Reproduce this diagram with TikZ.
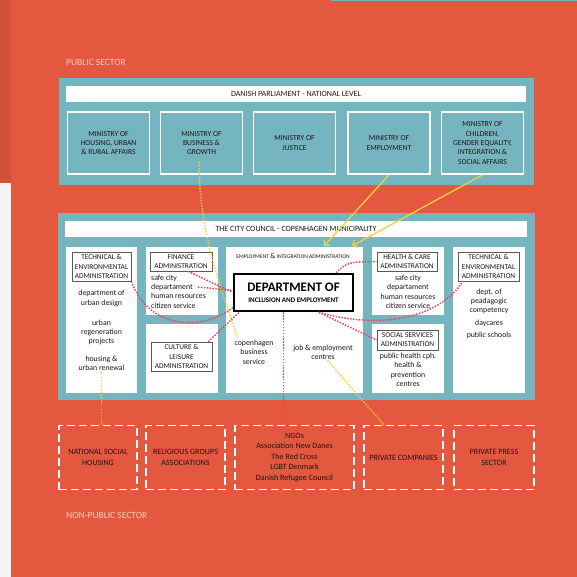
\documentclass[tikz,border=0pt]{standalone}
\usepackage{fontspec}
\setmainfont{Carlito}
\usetikzlibrary{arrows.meta}

\definecolor{slide}{RGB}{228,88,63}
\definecolor{panel}{RGB}{116,181,192}
\definecolor{ink}{RGB}{30,22,22}
\definecolor{sectorpink}{RGB}{248,205,190}
\definecolor{linkred}{RGB}{236,64,74}
\definecolor{feedyellow}{RGB}{244,208,60}

\begin{document}
\begin{tikzpicture}[x=1pt, y=-1pt,
        sector/.style={anchor=west, inner sep=0pt, text=sectorpink, font=\fontsize{9.5}{11}\selectfont},
        banner/.style={fill=white, text=ink, inner sep=0pt, font=\fontsize{8}{9}\selectfont},
        ministry/.style={draw=white, line width=1.8pt, fill=panel, text=ink, align=center,
            minimum width=82pt, minimum height=62pt, inner sep=1pt, font=\fontsize{7.6}{9.3}\selectfont},
        unitbox/.style={draw=black!65, line width=0.7pt, fill=white, text=ink, align=center,
            inner sep=0.5pt, font=\fontsize{7.4}{9.2}\selectfont},
        body/.style={text=ink, align=center, inner sep=0pt, font=\fontsize{7.8}{9.4}\selectfont},
        outside/.style={draw=white, line width=1.7pt, dash pattern=on 8pt off 4pt, text=ink, align=center,
            minimum height=64pt, inner sep=1pt, font=\fontsize{8.1}{10.5}\selectfont},
        link/.style={linkred, line width=1.5pt, dash pattern=on 1.4pt off 1.5pt},
        feed/.style={feedyellow, line width=1.5pt, dash pattern=on 1.4pt off 1.5pt},
        report/.style={feedyellow, line width=1.3pt, -{Straight Barb[length=4pt,width=8pt]}}
    ]
    \useasboundingbox (0,0) rectangle (577,577);

    % Slide background
    \fill[slide] (0,0) rectangle (577,577);
    \fill[slide!92!black] (0,0) rectangle (10.5,183);
    \fill[black!4] (0,183) rectangle (10.5,577);
    \fill[panel] (331,0) rectangle (577,1.3);

    \node[sector] (public) at (66,62) {PUBLIC SECTOR};

    % National level
    \fill[panel] (59,78) rectangle (534,185);
    \node[banner, minimum width=460pt, minimum height=16pt] (parliament) at (296,94) {DANISH PARLIAMENT - NATIONAL LEVEL};
    \foreach \n/\x/\t in {m1/108.5/{MINISTRY OF\\HOUSING, URBAN\\\& RURAL AFFAIRS},
                          m2/201.5/{MINISTRY OF\\BUSINESS \&\\GROWTH},
                          m3/294.5/{MINISTRY OF\\JUSTICE},
                          m4/389/{MINISTRY OF\\EMPLOYMENT},
                          m5/482.5/{MINISTRY OF\\CHILDREN,\\GENDER EQUALITY,\\INTEGRATION \&\\SOCIAL AFFAIRS}} {
        \node[ministry] (\n) at (\x,143) {\t};
    }

    % Municipal level
    \fill[panel] (58,213) rectangle (535,400);
    \node[banner, minimum width=462pt, minimum height=16pt] (council) at (296,229) {THE CITY COUNCIL - COPENHAGEN MUNICIPALITY};
    \fill[white] (66,247) rectangle (137,393);
    \fill[white] (146,247) rectangle (218,315);
    \fill[white] (146,324) rectangle (218,393);
    \fill[white] (226,247) rectangle (363,393);
    \fill[white] (372,247) rectangle (444,315);
    \fill[white] (372,324) rectangle (444,393);
    \fill[white] (453,247) rectangle (525,393);

    % Administrations
    \node[unitbox, minimum width=59pt, minimum height=29pt] (tecL) at (101.5,266.5) {TECHNICAL \&\\ENVIRONMENTAL\\ADMINISTRATION};
    \node[unitbox, minimum width=62pt, minimum height=19pt] (fin) at (181,261.5) {FINANCE\\ADMINISTRATION};
    \node[unitbox, minimum width=61pt, minimum height=29pt] (cult) at (181.5,356.5) {CULTURE \&\\LEISURE\\ADMINISTRATION};
    \node[unitbox, minimum width=60pt, minimum height=19pt] (hlt) at (407,261.5) {HEALTH \& CARE\\ADMINISTRATION};
    \node[unitbox, minimum width=61pt, minimum height=20pt] (soc) at (407.5,340) {SOCIAL SERVICES\\ADMINISTRATION};
    \node[unitbox, minimum width=61pt, minimum height=29pt] (tecR) at (488.5,266.5) {TECHNICAL \&\\ENVIRONMENTAL\\ADMINISTRATION};

    \node[text=ink, inner sep=0pt, font=\fontsize{5.6}{6}\selectfont] (empadm) at (293,256)
        {EMPLOYMENT {\fontsize{7.4}{8}\selectfont\&} INTEGRATION ADMINISTRATION};
    \node[draw=black, line width=2.6pt, fill=white, text=black, align=center, inner sep=0pt,
          minimum width=119pt, minimum height=37pt] (dept) at (293.5,292.5)
        {{\fontsize{13}{13}\selectfont\bfseries DEPARTMENT OF}\\[-1pt]{\fontsize{7}{8}\selectfont\bfseries INCLUSION AND EMPLOYMENT}};

    % Units and services
    \node[body] (design) at (101.5,298.5) {department of\\urban design};
    \node[body] (regen) at (101.5,332.5) {urban\\regeneration\\projects};
    \node[body] (housing) at (101.5,363.5) {housing \&\\urban renewal};
    \node[body, anchor=west, align=left] (finbody) at (151,291.5) {safe city\\departament\\human resources\\citizen service};
    \node[body] (copen) at (254,352) {copenhagen\\business\\service};
    \node[body] (jobs) at (323,352.5) {job \& employment\\centres};
    \node[body] (hltbody) at (408,292) {safe city\\departament\\human resources\\citizen service};
    \node[body] (socbody) at (408,370) {public health cph.\\health \&\\prevention\\centres};
    \node[body] (pedag) at (489,301.5) {dept. of\\peadagogic\\competency};
    \node[body] (daycare) at (489,323) {daycares};
    \node[body] (schools) at (489,335) {public schools};

    % Non-public actors
    \node[outside, minimum width=78pt] (nsh) at (98,457.5) {NATIONAL SOCIAL\\HOUSING};
    \node[outside, minimum width=79pt] (rel) at (185.5,457.5) {RELIGIOUS GROUPS\\ASSOCIATIONS};
    \node[outside, minimum width=119pt] (ngo) at (294.5,457.5) {NGOs\\Association New Danes\\The Red Cross\\LGBT Denmark\\Danish Refugee Council};
    \node[outside, minimum width=79pt] (prv) at (403.5,457.5) {PRIVATE COMPANIES};
    \node[outside, minimum width=80pt] (press) at (494,457.5) {PRIVATE PRESS\\SECTOR};

    \node[sector] (nonpublic) at (66,515) {NON-PUBLIC SECTOR};

    % Ministries reporting into the administration
    \coordinate (intoL) at (324,246);
    \coordinate (intoR) at (352,246);
    \draw[report] (m4.south) -- (intoL);
    \draw[report] (m5.south) -- (intoR);

    % Yellow dotted ties
    \coordinate (bizout) at (199,162);
    \coordinate (bizin) at (238,339);
    \draw[feed] (bizout) .. controls (199,240) and (226,300) .. (bizin);
    \draw[feed] (housing.south) -- (housing.south |- nsh.north);
    \draw[feed] (jobs.-60) -- (prv.121);

    % Red dotted ties to the department
    \coordinate (depline) at (198,287);
    \draw[link] (tecL.south east) .. controls (150,332) and (205,330) .. (dept.194);
    \draw[link] (fin.-54) -- (dept.west);
    \draw[link] (depline) -- (dept.178);
    \draw[link] (cult.29) -- (dept.-160);
    \draw[link] (dept.-117) -- (dept.-117 |- ngo.north);
    \draw[link] (dept.25) .. controls (348,262) .. (hlt.west);
    \draw[link] (dept.-38) -- (soc.west);
    \draw[link] (dept.-38) .. controls (380,330) and (440,318) .. (tecR.-150);
\end{tikzpicture}
\end{document}
